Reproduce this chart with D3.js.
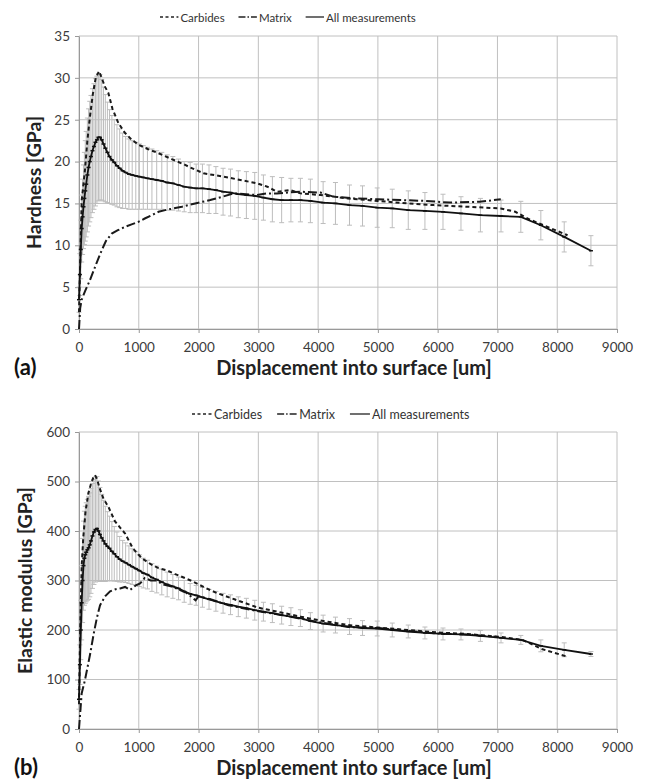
<!DOCTYPE html>
<html lang="en">
<head>
    <meta charset="UTF-8">
    <title>Hardness and elastic modulus</title>
    <script src="https://d3js.org/d3.v7.min.js"></script>
    <style>
        body { margin: 0; background: #fff; }
        text { font-family: Lato, "Open Sans", sans-serif; }
        .grid line { stroke: #c0c0c0; stroke-width: 1; }
        .axis path, .axis line { stroke: #999; }
        .axis text { fill: #3c3c3c; font-size: 13.5px; }
    </style>
</head>
<body>
<script>
    // measurement depths shared by both panels (All measurements)
    const depth = [0, 15, 30, 45, 60, 75, 90, 105, 120, 140, 160, 180, 200, 225, 250,
        275, 300, 325, 350, 380, 410, 440, 475, 510, 550, 590, 635, 680, 730, 780,
        835, 890, 950, 1010, 1075, 1145, 1220, 1300, 1385, 1475, 1570, 1665, 1760, 1860, 1960,
        2065, 2175, 2290, 2410, 2535, 2665, 2800, 2940, 3085, 3235, 3390, 3545, 3704, 3871, 4084,
        4290, 4525, 4743, 4989, 5240, 5508, 5787, 6089, 6390, 6715, 7060, 7391, 7726, 8117, 8564];

    const hardMean = [3.5, 6.5, 9.5, 12.0, 13.4, 14.6, 15.6, 16.5, 17.3, 18.4, 19.3, 20.0, 20.6, 21.3, 21.8,
        22.3, 22.6, 22.9, 22.9, 22.6, 22.1, 21.6, 21.1, 20.6, 20.2, 19.9, 19.5, 19.2, 18.9, 18.7,
        18.5, 18.4, 18.3, 18.2, 18.1, 18.0, 17.9, 17.8, 17.7, 17.5, 17.4, 17.2, 17.0, 16.9, 16.8,
        16.8, 16.7, 16.6, 16.4, 16.3, 16.1, 16.0, 15.9, 15.7, 15.5, 15.4, 15.4, 15.4, 15.3, 15.1,
        15.0, 14.8, 14.7, 14.5, 14.4, 14.2, 14.1, 14.0, 13.8, 13.6, 13.5, 13.4, 12.4, 11.0, 9.35];
    const hardSd = [1.5, 2.5, 3.5, 4.0, 4.5, 5.0, 5.5, 6.0, 6.3, 6.8, 7.0, 7.2, 7.3, 7.4, 7.5,
        7.6, 7.6, 7.6, 7.5, 7.2, 6.8, 6.4, 6.0, 5.6, 5.3, 5.1, 4.9, 4.7, 4.5, 4.3,
        4.2, 4.1, 4.0, 3.9, 3.8, 3.7, 3.6, 3.5, 3.4, 3.3, 3.2, 3.1, 3.0, 3.0, 2.9,
        2.9, 2.9, 2.8, 2.8, 2.8, 2.8, 2.8, 2.8, 2.7, 2.7, 2.7, 2.6, 2.6, 2.6, 2.5,
        2.5, 2.4, 2.4, 2.35, 2.3, 2.3, 2.2, 2.1, 2.0, 2.0, 1.9, 1.85, 1.75, 1.8, 1.8];

    const modMean = [60, 130, 200, 255, 300, 330, 345, 352, 357, 362, 366, 372, 380, 390, 398,
        403, 405, 400, 393, 386, 380, 374, 369, 365, 359, 354, 348, 343, 339, 336,
        332, 328, 324, 320, 315, 312, 306, 302, 297, 292, 288, 284, 278, 273, 270,
        266, 262, 258, 254, 251, 247, 244, 240, 237, 234, 230, 227, 224, 218, 213,
        210, 207, 204, 203, 200, 197, 194, 192, 191, 188, 184, 180, 168, 160, 151.5];
    const modSd = [20, 40, 60, 75, 85, 90, 95, 98, 100, 102, 104, 105, 106, 106, 106,
        106, 105, 101, 95, 88, 82, 76, 70, 65, 60, 55, 50, 46, 42, 40,
        38, 36, 34, 32, 30, 29, 28, 27, 26, 25, 24, 23, 22, 21, 20,
        20, 20, 20, 20, 20, 20, 20, 20, 19, 19, 18, 18, 17, 17, 17,
        16, 16, 15, 15, 14, 13, 12, 12, 11, 11, 10, 9, 12, 14, 5];

    // Carbides and Matrix curves
    const carbDepthA = [0, 20, 45, 70, 100, 140, 184, 230, 280, 335, 380, 430, 491, 560, 659,
        760, 883, 1000, 1150, 1329, 1550, 1776, 1860, 2083, 2419, 2700, 2978, 3150, 3313, 3536,
        3704, 4039, 4500, 5000, 5500, 5933, 6500, 7056, 7300, 7503, 7800, 8173];
    const carbHardA = [2, 8, 15.4, 17, 19, 22.5, 25.4, 28, 30, 30.8, 30, 29, 28.2, 26.3, 24.6,
        23.5, 22.6, 22.0, 21.5, 21.0, 20.3, 19.6, 19.3, 18.6, 18.2, 17.8, 17.4, 17.0, 16.4, 16.6,
        16.2, 16.0, 15.6, 15.3, 15.0, 14.8, 14.6, 14.4, 14.0, 13.2, 12.3, 11.2];
    const matDepthA = [0, 20, 45, 100, 184, 268, 300, 380, 450, 548, 650, 771, 880, 994, 1100,
        1218, 1330, 1441, 1580, 1720, 1944, 2196, 2400, 2587, 2800, 2978, 3150, 3313, 3500, 3704,
        4039, 4260, 4600, 5000, 5377, 5800, 6200, 6700, 7056];
    const matHardA = [0, 2.5, 3.5, 4.5, 5.85, 7.4, 8, 9.4, 10.5, 11.4, 11.8, 12.2, 12.5, 12.8, 13.2,
        13.6, 14.0, 14.2, 14.4, 14.6, 15.0, 15.4, 15.8, 16.2, 16.1, 16.0, 16.2, 16.2, 16.3, 16.4,
        16.3, 15.8, 15.6, 15.5, 15.4, 15.3, 15.1, 15.2, 15.5];

    const carbDepthB = [0, 20, 45, 72, 110, 156, 200, 240, 268, 300, 350, 410, 491, 600, 700,
        771, 900, 1051, 1200, 1329, 1480, 1609, 1750, 1888, 2083, 2300, 2600, 3000, 3400, 3704,
        4000, 4500, 5000, 5500, 6000, 6500, 7056, 7419, 7754, 8173];
    const carbModB = [50, 200, 330, 388, 440, 476, 495, 508, 513, 505, 485, 465, 449, 420, 405,
        395, 365, 345, 333, 325, 320, 313, 306, 299, 287, 275, 262, 245, 235, 227,
        220, 210, 205, 200, 195, 192, 186, 180, 161, 146];
    const matDepthB = [0, 45, 100, 184, 250, 300, 352, 436, 520, 600, 687, 771, 855, 950, 1022,
        1100, 1200, 1300, 1400, 1550, 1700, 1800, 1900, 1950, 2000, 2200, 2500, 3000, 3500, 4000,
        4500, 5000, 5500, 6000, 6500, 7000];
    const matModB = [0, 72, 99, 150, 195, 225, 250, 268, 278, 282, 284, 287, 281, 290, 294,
        305, 300, 300, 292, 288, 280, 275, 265, 260, 268, 262, 250, 238, 228, 216,
        206, 204, 198, 193, 191, 186];

    const xTicks = [0, 1000, 2000, 3000, 4000, 5000, 6000, 7000, 8000, 9000];
    const yTicksA = [0, 5, 10, 15, 20, 25, 30, 35];
    const yTicksB = [0, 100, 200, 300, 400, 500, 600];
    const legendNames = ["Carbides", "Matrix", "All measurements"];

    const width = 647, height = 783;
    const svg = d3.select("body").append("svg").attr("width", width).attr("height", height);

    const dashCarb = "4,3";
    const dashMat = "9,3,2,3";

    function drawPanel(p) {
        const x = d3.scaleLinear().domain([0, 9000]).range([79, 617]);
        const y = d3.scaleLinear().domain([0, p.yTicks[p.yTicks.length - 1]]).range([p.bottom, p.top]);
        const g = svg.append("g");

        // gridlines
        const grid = g.append("g").attr("class", "grid");
        grid.selectAll(".v").data(xTicks).join("line")
            .attr("x1", d => x(d)).attr("x2", d => x(d))
            .attr("y1", p.top).attr("y2", p.bottom);
        grid.selectAll(".h").data(p.yTicks).join("line").attr("class", "h")
            .attr("x1", 79).attr("x2", 617)
            .attr("y1", d => y(d)).attr("y2", d => y(d));

        g.append("g").attr("class", "axis")
            .attr("transform", `translate(0,${p.bottom})`)
            .call(d3.axisBottom(x).tickValues(xTicks).tickFormat(d3.format("d"))
                .tickSize(4).tickPadding(9).tickSizeOuter(0));
        g.append("g").attr("class", "axis")
            .attr("transform", "translate(79,0)")
            .call(d3.axisLeft(y).tickValues(p.yTicks).tickSize(4).tickPadding(5).tickSizeOuter(0));

        // error bars
        const pts = depth.map((d, i) => ({x: d, m: p.mean[i], s: p.sd[i]}));
        const eb = g.append("g").attr("stroke", "#bdbdbd").attr("stroke-width", 1);
        eb.selectAll(".bar").data(pts).join("line")
            .attr("x1", d => x(d.x)).attr("x2", d => x(d.x))
            .attr("y1", d => y(d.m - d.s)).attr("y2", d => y(d.m + d.s));
        eb.selectAll(".capT").data(pts).join("line").attr("class", "capT")
            .attr("x1", d => x(d.x) - 2.5).attr("x2", d => x(d.x) + 2.5)
            .attr("y1", d => y(d.m + d.s)).attr("y2", d => y(d.m + d.s));
        eb.selectAll(".capB").data(pts).join("line").attr("class", "capB")
            .attr("x1", d => x(d.x) - 2.5).attr("x2", d => x(d.x) + 2.5)
            .attr("y1", d => y(d.m - d.s)).attr("y2", d => y(d.m - d.s));

        const line = d3.line().x(d => x(d[0])).y(d => y(d[1]));

        g.append("path")
            .attr("d", line(p.matX.map((d, i) => [d, p.matY[i]])))
            .attr("fill", "none").attr("stroke", "#1a1a1a").attr("stroke-width", 2)
            .attr("stroke-dasharray", dashMat);
        g.append("path")
            .attr("d", line(p.carbX.map((d, i) => [d, p.carbY[i]])))
            .attr("fill", "none").attr("stroke", "#1a1a1a").attr("stroke-width", 2)
            .attr("stroke-dasharray", dashCarb);
        g.append("path")
            .attr("d", line(pts.map(d => [d.x, d.m])))
            .attr("fill", "none").attr("stroke", "#111").attr("stroke-width", 1.8);
        g.selectAll(".mk").data(pts).join("line")
            .attr("x1", d => x(d.x) - 2).attr("x2", d => x(d.x) + 2)
            .attr("y1", d => y(d.m)).attr("y2", d => y(d.m))
            .attr("stroke", "#111").attr("stroke-width", 1.5);

        // titles
        g.append("text")
            .attr("transform", `translate(${p.yTitleX},${(p.top + p.bottom) / 2}) rotate(-90)`)
            .attr("text-anchor", "middle").attr("dominant-baseline", "central")
            .attr("font-size", 19.5).attr("font-weight", "bold").attr("fill", "#222")
            .text(p.yTitle);
        g.append("text")
            .attr("x", 354).attr("y", p.bottom + 46)
            .attr("text-anchor", "middle")
            .attr("font-size", 20).attr("font-weight", "bold").attr("fill", "#222")
            .text("Displacement into surface [um]");
        g.append("text")
            .attr("x", 14).attr("y", p.bottom + 46)
            .attr("font-size", 22).attr("font-weight", "bold").attr("fill", "#111")
            .text(p.label);

        // legend
        const lg = g.append("g").attr("font-size", p.legendFont).attr("fill", "#333");
        let cx = p.legendX;
        const sampleLen = p.legendFont * 1.6;
        legendNames.forEach((name, i) => {
            lg.append("line")
                .attr("x1", cx).attr("x2", cx + sampleLen)
                .attr("y1", p.legendY).attr("y2", p.legendY)
                .attr("stroke", "#222").attr("stroke-width", 1.3)
                .attr("stroke-dasharray", i === 0 ? "3,2.5" : i === 1 ? "7,2,1.5,2" : null);
            cx += sampleLen + 2;
            const t = lg.append("text")
                .attr("x", cx).attr("y", p.legendY)
                .attr("dominant-baseline", "central")
                .text(name);
            cx += t.node().getComputedTextLength() + p.legendFont * 1.2;
        });
    }

    drawPanel({
        top: 36, bottom: 329, yTicks: yTicksA, mean: hardMean, sd: hardSd,
        carbX: carbDepthA, carbY: carbHardA, matX: matDepthA, matY: matHardA,
        yTitle: "Hardness [GPa]", yTitleX: 33, label: "(a)",
        legendX: 160, legendY: 17, legendFont: 11.5
    });
    drawPanel({
        top: 432, bottom: 729, yTicks: yTicksB, mean: modMean, sd: modSd,
        carbX: carbDepthB, carbY: carbModB, matX: matDepthB, matY: matModB,
        yTitle: "Elastic modulus [GPa]", yTitleX: 24, label: "(b)",
        legendX: 192, legendY: 414, legendFont: 12.5
    });
</script>
</body>
</html>
